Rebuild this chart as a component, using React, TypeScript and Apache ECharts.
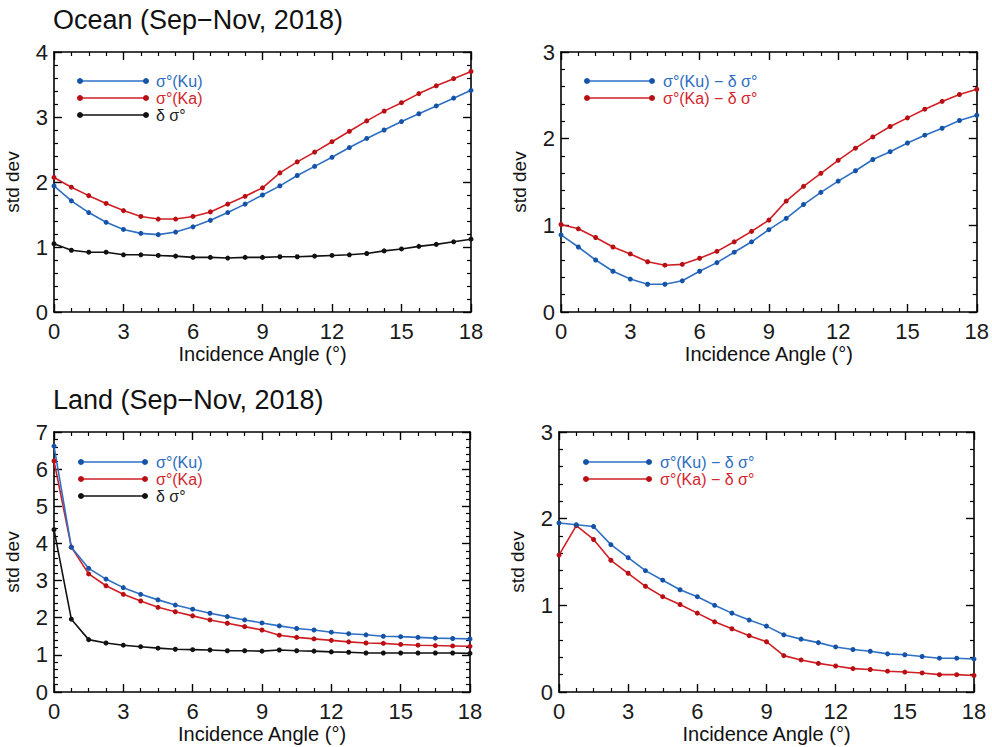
import React, { useEffect, useRef } from "react";
import * as echarts from "echarts";

// Incidence angles (degrees)
const angles = [0, 0.75, 1.5, 2.25, 3, 3.75, 4.5, 5.25, 6, 6.75, 7.5, 8.25, 9, 9.75, 10.5, 11.25, 12, 12.75, 13.5, 14.25, 15, 15.75, 16.5, 17.25, 18];

// Ocean (Sep-Nov, 2018)
const oceanKu = [1.94, 1.71, 1.53, 1.38, 1.27, 1.21, 1.19, 1.23, 1.31, 1.41, 1.53, 1.66, 1.80, 1.94, 2.10, 2.24, 2.38, 2.53, 2.67, 2.80, 2.93, 3.05, 3.17, 3.29, 3.41];
const oceanKa = [2.07, 1.92, 1.79, 1.67, 1.56, 1.47, 1.43, 1.43, 1.47, 1.54, 1.66, 1.78, 1.91, 2.14, 2.31, 2.46, 2.62, 2.78, 2.94, 3.09, 3.22, 3.36, 3.48, 3.59, 3.70];
const oceanDelta = [1.05, 0.95, 0.92, 0.92, 0.88, 0.88, 0.87, 0.86, 0.84, 0.84, 0.83, 0.84, 0.84, 0.85, 0.85, 0.86, 0.87, 0.88, 0.90, 0.94, 0.97, 1.01, 1.04, 1.08, 1.12];
const oceanKuMinusDelta = [0.89, 0.75, 0.60, 0.47, 0.38, 0.32, 0.32, 0.36, 0.47, 0.57, 0.69, 0.81, 0.95, 1.08, 1.24, 1.38, 1.51, 1.63, 1.76, 1.85, 1.95, 2.04, 2.12, 2.21, 2.27];
const oceanKaMinusDelta = [1.01, 0.96, 0.86, 0.75, 0.67, 0.58, 0.54, 0.55, 0.62, 0.70, 0.81, 0.93, 1.06, 1.28, 1.45, 1.60, 1.75, 1.89, 2.02, 2.14, 2.24, 2.34, 2.43, 2.51, 2.57];

// Land (Sep-Nov, 2018)
const landKu = [6.62, 3.90, 3.33, 3.04, 2.81, 2.63, 2.48, 2.34, 2.23, 2.12, 2.03, 1.94, 1.86, 1.78, 1.71, 1.67, 1.61, 1.57, 1.54, 1.50, 1.49, 1.47, 1.45, 1.44, 1.43];
const landKa = [6.22, 3.90, 3.18, 2.86, 2.63, 2.45, 2.28, 2.16, 2.05, 1.94, 1.85, 1.76, 1.67, 1.53, 1.47, 1.43, 1.39, 1.35, 1.32, 1.31, 1.28, 1.26, 1.25, 1.24, 1.23];
const landDelta = [4.37, 1.96, 1.41, 1.32, 1.26, 1.22, 1.18, 1.15, 1.14, 1.13, 1.11, 1.11, 1.10, 1.13, 1.11, 1.10, 1.08, 1.07, 1.05, 1.05, 1.05, 1.05, 1.05, 1.05, 1.04];
const landKuMinusDelta = [1.95, 1.93, 1.91, 1.70, 1.55, 1.40, 1.29, 1.18, 1.10, 1.00, 0.91, 0.83, 0.76, 0.66, 0.61, 0.57, 0.52, 0.49, 0.47, 0.44, 0.43, 0.41, 0.39, 0.39, 0.38];
const landKaMinusDelta = [1.58, 1.92, 1.76, 1.52, 1.37, 1.22, 1.10, 1.01, 0.91, 0.81, 0.73, 0.65, 0.58, 0.42, 0.37, 0.33, 0.30, 0.27, 0.26, 0.24, 0.23, 0.22, 0.20, 0.20, 0.19];

// Axis settings
const xTicks = { min: 0, max: 18, interval: 3 };
const yMaxOceanLeft = 4;
const yMaxRight = 3;
const yMaxLandLeft = 7;

const titles = ["Ocean (Sep\u2212Nov, 2018)", "Land (Sep\u2212Nov, 2018)"];
const xName = "Incidence Angle (\u00b0)";
const yName = "std dev";
const legendLeft = ["\u03c3\u00b0(Ku)", "\u03c3\u00b0(Ka)", "\u03b4 \u03c3\u00b0"];
const legendRight = ["\u03c3\u00b0(Ku) \u2212 \u03b4 \u03c3\u00b0", "\u03c3\u00b0(Ka) \u2212 \u03b4 \u03c3\u00b0"];

const FONT = "Liberation Sans, Arial, Helvetica, sans-serif";
const BLUE_LINE = "#2e6fc4";
const BLUE_DOT = "#1553a8";
const RED_LINE = "#d01f24";
const RED_DOT = "#b80f14";
const BLACK = "#111111";
const BLUE_TEXT = "#2c6dc0";
const RED_TEXT = "#d2262c";

const grids = [
  { left: 54, top: 52, width: 417, height: 260 },
  { left: 561, top: 52, width: 418, height: 260 },
  { left: 54, top: 432, width: 416, height: 260 },
  { left: 559, top: 432, width: 415, height: 260 },
];

const yMaxes = [yMaxOceanLeft, yMaxRight, yMaxLandLeft, yMaxRight];

function pairs(vals: number[]) {
  return angles.map((a, i) => [a, vals[i]]);
}

export default function App() {
  const ref = useRef<HTMLDivElement>(null);

  useEffect(() => {
    if (!ref.current) return;
    const chart = echarts.init(ref.current, null, { renderer: "svg" });

    const axisLineStyle = { color: "#000", width: 1.6 };
    const xAxes: any[] = [];
    const yAxes: any[] = [];
    grids.forEach((_, gi) => {
      const base = {
        type: "value",
        gridIndex: gi,
        ...xTicks,
        splitNumber: 6,
        axisLine: { show: true, onZero: false, lineStyle: axisLineStyle },
        axisTick: { show: true, inside: true, length: 8, lineStyle: { color: "#000", width: 1.4 } },
        minorTick: { show: true, splitNumber: 4, length: 4, lineStyle: { color: "#000", width: 1.2 } },
        splitLine: { show: false },
        minorSplitLine: { show: false },
      };
      xAxes.push({
        ...base,
        position: "bottom",
        name: xName,
        nameLocation: "middle",
        nameGap: 32,
        nameTextStyle: { fontFamily: FONT, fontSize: 20, color: "#111" },
        axisLabel: { show: true, margin: 8, fontFamily: FONT, fontSize: 22, color: "#1a1a1a" },
      });
      xAxes.push({ ...base, position: "top", axisLabel: { show: false } });

      const ybase = {
        type: "value",
        gridIndex: gi,
        min: 0,
        max: yMaxes[gi],
        interval: 1,
        axisLine: { show: true, onZero: false, lineStyle: axisLineStyle },
        axisTick: { show: true, inside: true, length: 8, lineStyle: { color: "#000", width: 1.4 } },
        minorTick: { show: true, splitNumber: 5, length: 4, lineStyle: { color: "#000", width: 1.2 } },
        splitLine: { show: false },
        minorSplitLine: { show: false },
      };
      yAxes.push({
        ...ybase,
        position: "left",
        name: yName,
        nameLocation: "middle",
        nameRotate: 90,
        nameGap: 32,
        nameTextStyle: { fontFamily: FONT, fontSize: 19, color: "#111" },
        axisLabel: { show: true, margin: 6, fontFamily: FONT, fontSize: 22, color: "#1a1a1a" },
      });
      yAxes.push({ ...ybase, position: "right", axisLabel: { show: false } });
    });

    const mk = (name: string, data: number[], gi: number, line: string, dot: string) => ({
      name,
      type: "line",
      xAxisIndex: gi * 2,
      yAxisIndex: gi * 2,
      data: pairs(data),
      symbol: "circle",
      symbolSize: 5,
      showSymbol: true,
      lineStyle: { color: line, width: 1.6 },
      itemStyle: { color: dot },
      z: 3,
    });

    const series = [
      mk("oceanDelta", oceanDelta, 0, BLACK, BLACK),
      mk("oceanKa", oceanKa, 0, RED_LINE, RED_DOT),
      mk("oceanKu", oceanKu, 0, BLUE_LINE, BLUE_DOT),
      mk("oceanKaMinusDelta", oceanKaMinusDelta, 1, RED_LINE, RED_DOT),
      mk("oceanKuMinusDelta", oceanKuMinusDelta, 1, BLUE_LINE, BLUE_DOT),
      mk("landDelta", landDelta, 2, BLACK, BLACK),
      mk("landKa", landKa, 2, RED_LINE, RED_DOT),
      mk("landKu", landKu, 2, BLUE_LINE, BLUE_DOT),
      mk("landKaMinusDelta", landKaMinusDelta, 3, RED_LINE, RED_DOT),
      mk("landKuMinusDelta", landKuMinusDelta, 3, BLUE_LINE, BLUE_DOT),
    ];

    const legendEntry = (x1: number, x2: number, y: number, tx: number, text: string, line: string, dot: string, tcol: string) => [
      { type: "line", shape: { x1, y1: y, x2, y2: y }, style: { stroke: line, lineWidth: 1.6 }, z: 10 },
      { type: "circle", shape: { cx: x1, cy: y, r: 3 }, style: { fill: dot }, z: 11 },
      { type: "circle", shape: { cx: x2, cy: y, r: 3 }, style: { fill: dot }, z: 11 },
      {
        type: "text",
        x: tx,
        y,
        style: { text, fill: tcol, font: `16px ${FONT}`, verticalAlign: "middle", lineHeight: 16 },
        z: 11,
      },
    ];

    const graphic: any[] = [
      ...legendEntry(80, 146, 81, 156, legendLeft[0], BLUE_LINE, BLUE_DOT, BLUE_TEXT),
      ...legendEntry(80, 146, 98, 156, legendLeft[1], RED_LINE, RED_DOT, RED_TEXT),
      ...legendEntry(80, 146, 115, 156, legendLeft[2], BLACK, BLACK, "#222"),
      ...legendEntry(587, 652, 81, 663, legendRight[0], BLUE_LINE, BLUE_DOT, BLUE_TEXT),
      ...legendEntry(587, 652, 98, 663, legendRight[1], RED_LINE, RED_DOT, RED_TEXT),
      ...legendEntry(81, 145, 462, 156, legendLeft[0], BLUE_LINE, BLUE_DOT, BLUE_TEXT),
      ...legendEntry(81, 145, 479, 156, legendLeft[1], RED_LINE, RED_DOT, RED_TEXT),
      ...legendEntry(81, 145, 496, 156, legendLeft[2], BLACK, BLACK, "#222"),
      ...legendEntry(586, 649, 462, 660, legendRight[0], BLUE_LINE, BLUE_DOT, BLUE_TEXT),
      ...legendEntry(586, 649, 479, 660, legendRight[1], RED_LINE, RED_DOT, RED_TEXT),
    ];

    chart.setOption({
      animation: false,
      backgroundColor: "#ffffff",
      title: [
        { text: titles[0], left: 48, top: 1, textStyle: { fontFamily: FONT, fontSize: 27, fontWeight: "normal", color: "#111" } },
        { text: titles[1], left: 48, top: 381, textStyle: { fontFamily: FONT, fontSize: 27, fontWeight: "normal", color: "#111" } },
      ],
      grid: grids,
      xAxis: xAxes,
      yAxis: yAxes,
      series,
      graphic,
    });

    return () => chart.dispose();
  }, []);

  return (
    <div
      ref={ref}
      style={{ position: "fixed", left: 0, top: 0, width: 992, height: 747, background: "#fff" }}
    />
  );
}
